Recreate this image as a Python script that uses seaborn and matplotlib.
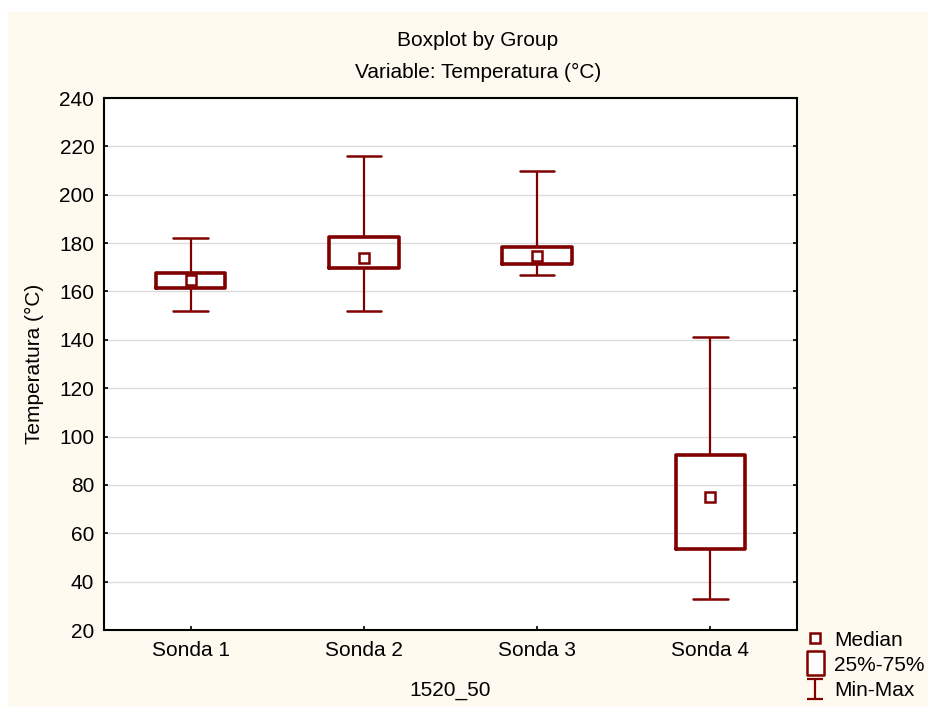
import numpy as np
import pandas as pd
import matplotlib
matplotlib.use('Agg')
import matplotlib.pyplot as plt
from matplotlib.lines import Line2D
from matplotlib.patches import Rectangle
from matplotlib.path import Path
import seaborn as sns

# five-number summaries (min, q1, median, q3, max)
groups = ['Sonda 1', 'Sonda 2', 'Sonda 3', 'Sonda 4']
mins = [152, 152, 167, 33]
q1s = [161.5, 169.5, 171.5, 53.5]
medians = [164.8, 173.8, 174.7, 75]
q3s = [167.5, 182.5, 178.5, 92.5]
maxs = [182, 216, 210, 141]

# five points per group -> linear quartiles land exactly on q1/q3
rows = []
for g, a, b, c, d, e in zip(groups, mins, q1s, medians, q3s, maxs):
    for v in (a, b, c, d, e):
        rows.append(dict(Group=g, Temp=v))
df = pd.DataFrame(rows)

sns.set_style('white')
plt.rcParams['font.family'] = ['Liberation Sans', 'DejaVu Sans']
plt.rcParams['text.color'] = 'black'
plt.rcParams['axes.labelcolor'] = 'black'
fs = 15

red = '#800000'
cream = '#fffaef'

fig = plt.figure(figsize=(9.29, 7.06), dpi=100, facecolor='white')
fig.patches.append(Rectangle((8/929, 0), 1, 1 - 12/706, transform=fig.transFigure,
                             facecolor=cream, edgecolor='none', zorder=-10))
ax = fig.add_axes([104/929, 1 - 630/706, (797-104)/929, (630-98)/706])
ax.set_facecolor('white')

sns.boxplot(data=df, x='Group', y='Temp', whis=(0, 100), width=0.4, fill=False,
            color=red, linewidth=2, showfliers=False, ax=ax,
            boxprops={'linewidth': 2.6},
            medianprops={'visible': False},
            whiskerprops={'linewidth': 1.6},
            capprops={'linewidth': 1.8})

# median shown as a small hollow square
sns.pointplot(data=df, x='Group', y='Temp', estimator='median', errorbar=None,
              linestyle='none', markers='s', color=red, ax=ax,
              markersize=6.5, markerfacecolor='white', markeredgewidth=1.8)

ax.set_xlim(-0.5, 3.5)
ax.set_ylim(20, 240)
ax.set_yticks(np.arange(20, 241, 20))
ax.yaxis.grid(True, color='#dcdcdc', linewidth=1)
ax.set_axisbelow(True)
for s in ax.spines.values():
    s.set_visible(True)
    s.set_color('black')
    s.set_linewidth(1.5)
ax.tick_params(direction='in', length=3, width=1.2, left=True, right=True,
               bottom=True, colors='black', labelsize=fs)
ax.tick_params(axis='y', pad=7)
ax.tick_params(axis='x', pad=8)

ax.set_xlabel('1520_50', fontsize=fs)
ax.xaxis.set_label_coords(0.5, -0.096)
ax.set_ylabel('Temperatura (°C)', fontsize=fs)
ax.yaxis.set_label_coords(-0.087, 0.5)
fig.text(478/929, 1 - 40/706, 'Boxplot by Group', ha='center', va='center', fontsize=fs)
fig.text(478/929, 1 - 72/706, 'Variable: Temperatura (°C)', ha='center', va='center', fontsize=fs)

# legend with custom symbols
box_marker = Path([(-0.36, -0.5), (0.36, -0.5), (0.36, 0.5), (-0.36, 0.5), (-0.36, -0.5)],
                  [Path.MOVETO, Path.LINETO, Path.LINETO, Path.LINETO, Path.CLOSEPOLY])
minmax_marker = Path([(-0.4, 0.5), (0.4, 0.5), (0, 0.5), (0, -0.5), (-0.4, -0.5), (0.4, -0.5)],
                     [Path.MOVETO, Path.LINETO, Path.MOVETO, Path.LINETO, Path.MOVETO, Path.LINETO])
handles = [
    Line2D([], [], linestyle='none', marker='s', markersize=6.5, markerfacecolor='white',
           markeredgecolor=red, markeredgewidth=1.8),
    Line2D([], [], linestyle='none', marker=box_marker, markersize=17, markerfacecolor='white',
           markeredgecolor=red, markeredgewidth=1.8),
    Line2D([], [], linestyle='none', marker=minmax_marker, markersize=15, markerfacecolor='none',
           markeredgecolor=red, markeredgewidth=1.6),
]
fig.legend(handles, ['Median', '25%-75%', 'Min-Max'], loc='lower left',
           bbox_to_anchor=(805/929, 6/706), frameon=False, fontsize=fs,
           handlelength=1.0, handletextpad=0.4, labelspacing=0.3, borderaxespad=0,
           borderpad=0)

fig.savefig('out.png', dpi=100, facecolor=fig.get_facecolor())
